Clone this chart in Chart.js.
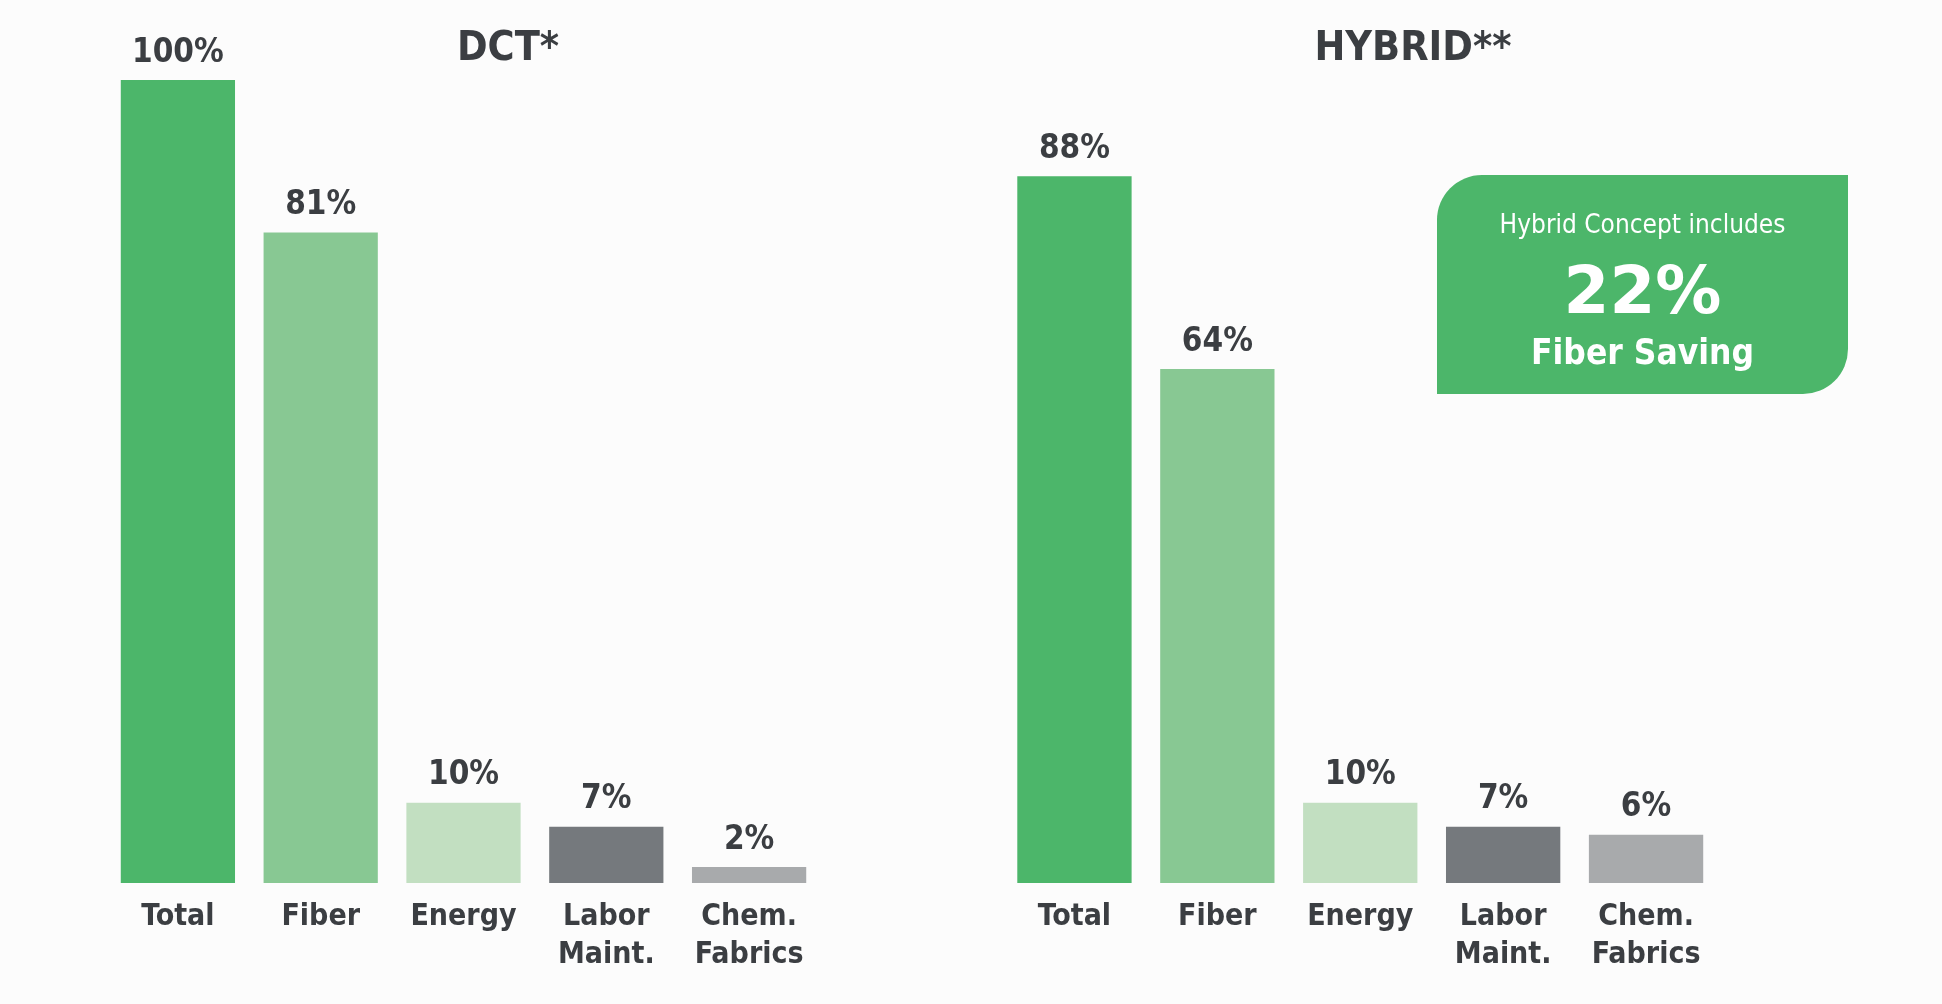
<!DOCTYPE html>
<html>
<head>
<meta charset="utf-8">
<script src="https://cdn.jsdelivr.net/npm/chart.js@4.4.0/dist/chart.umd.min.js"></script>
<style>
  body { margin:0; background:#fcfcfc; width:1942px; height:1004px; position:relative; overflow:hidden;
         font-family:"DejaVu Sans Condensed","DejaVu Sans",sans-serif; color:#3b3e42; }
  canvas { position:absolute; top:0; }
  #dct { left:0; }
  #hybrid { left:971px; }
  .title { position:absolute; top:24px; font-weight:bold; font-size:41px; line-height:44px;
           transform:translateX(-50%); white-space:nowrap; }
  .callout { position:absolute; left:1437px; top:175px; width:411px; height:219px; background:#4cb66a;
             border-radius:45px 0 45px 0; color:#fff; }
  .callout div { position:absolute; left:0; width:100%; text-align:center; white-space:nowrap; }
  .l1 { top:34px; font-size:26px; line-height:30px; }
  .l2 { top:83px; font-size:66px; line-height:66px; font-weight:bold; font-family:"DejaVu Sans",sans-serif; }
  .l3 { top:157px; font-size:35px; line-height:40px; font-weight:bold; }
</style>
</head>
<body>
<canvas id="dct" width="971" height="1004"></canvas>
<canvas id="hybrid" width="971" height="1004"></canvas>
<div class="title" style="left:508px">DCT*</div>
<div class="title" style="left:1413px">HYBRID**</div>
<div class="callout">
  <div class="l1">Hybrid Concept includes</div>
  <div class="l2">22%</div>
  <div class="l3">Fiber Saving</div>
</div>
<script>
const categories = ['Total', 'Fiber', 'Energy', ['Labor', 'Maint.'], ['Chem.', 'Fabrics']];
const dctValues = [100, 81, 10, 7, 2];
const hybridValues = [88, 64, 10, 7, 6];
const barColors = ['#4cb66a', '#88c893', '#c2dfc1', '#75797d', '#a8aaac'];

const fontFamily = '"DejaVu Sans Condensed", "DejaVu Sans", sans-serif';
const textColor = '#3b3e42';

// percent labels above each bar
const valueLabels = {
  id: 'valueLabels',
  afterDatasetsDraw(chart) {
    const ctx = chart.ctx;
    const values = chart.data.datasets[0].data;
    ctx.save();
    ctx.font = 'bold 33px ' + fontFamily;
    ctx.fillStyle = textColor;
    ctx.textAlign = 'center';
    ctx.textBaseline = 'middle';
    chart.getDatasetMeta(0).data.forEach(function(bar, i) {
      ctx.fillText(values[i] + '%', bar.x, bar.y - 27);
    });
    ctx.restore();
  }
};

function makeChart(id, values, padLeft, padRight) {
  return new Chart(document.getElementById(id), {
    type: 'bar',
    data: {
      labels: categories,
      datasets: [{
        data: values,
        backgroundColor: barColors,
        borderWidth: 0,
        barPercentage: 0.8,
        categoryPercentage: 1
      }]
    },
    options: {
      responsive: false,
      animation: false,
      layout: { padding: { left: padLeft, right: padRight, top: 80, bottom: 0 } },
      plugins: { legend: { display: false }, tooltip: { enabled: false } },
      scales: {
        x: {
          grid: { display: false },
          border: { display: false },
          ticks: {
            color: textColor,
            padding: 7,
            maxRotation: 0,
            autoSkip: false,
            font: { family: fontFamily, size: 30, weight: 'bold', lineHeight: 1.28 }
          },
          afterFit: function(scale) { scale.height = 121; }
        },
        y: { display: false, min: 0, max: 100 }
      }
    },
    plugins: [valueLabels]
  });
}

makeChart('dct', dctValues, 106.5, 150.5);
makeChart('hybrid', hybridValues, 32, 224.5);
</script>
</body>
</html>
